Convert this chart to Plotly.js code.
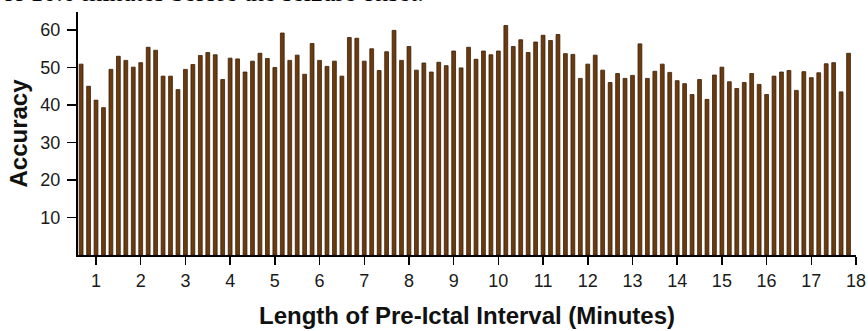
<!DOCTYPE html>
<html>
<head>
<meta charset="utf-8">
<script src="https://cdn.plot.ly/plotly-3.0.1.min.js"></script>
<style>
  html, body { margin: 0; padding: 0; background: #fff; }
  #chart { width: 868px; height: 331px; }
</style>
</head>
<body>
<div id="chart"></div>
<script>
// Pre-ictal interval length, in seconds (bars every 10 s)
const intervalSeconds = [
  40, 50, 60, 70, 80, 90, 100, 110, 120, 130, 140, 150, 160, 170, 180, 190, 200, 210, 220, 230,
  240, 250, 260, 270, 280, 290, 300, 310, 320, 330, 340, 350, 360, 370, 380, 390, 400, 410, 420, 430,
  440, 450, 460, 470, 480, 490, 500, 510, 520, 530, 540, 550, 560, 570, 580, 590, 600, 610, 620, 630,
  640, 650, 660, 670, 680, 690, 700, 710, 720, 730, 740, 750, 760, 770, 780, 790, 800, 810, 820, 830,
  840, 850, 860, 870, 880, 890, 900, 910, 920, 930, 940, 950, 960, 970, 980, 990, 1000, 1010, 1020, 1030,
  1040, 1050, 1060, 1070
];

// Accuracy (%) per interval
const accuracy = [
  50.9, 45.0, 41.3, 39.3, 49.5, 53.0, 51.9, 50.1, 51.3, 55.4,
  54.6, 47.7, 47.7, 44.1, 49.5, 50.8, 53.2, 54.0, 53.4, 46.8,
  52.5, 52.3, 48.8, 51.7, 53.8, 52.4, 50.0, 59.2, 51.9, 53.3,
  48.2, 56.4, 51.9, 50.3, 51.7, 47.7, 58.0, 57.8, 51.7, 55.0,
  49.2, 54.2, 59.9, 51.9, 55.6, 49.3, 51.2, 48.8, 51.4, 50.5,
  54.4, 49.9, 55.4, 52.2, 54.4, 53.4, 54.4, 61.2, 55.6, 57.4,
  54.0, 56.8, 58.6, 57.2, 58.8, 53.7, 53.5, 47.1, 50.9, 53.3,
  49.3, 46.0, 48.4, 47.1, 47.9, 56.3, 47.1, 49.0, 50.9, 48.7,
  46.5, 45.7, 42.8, 46.8, 41.5, 48.0, 50.1, 46.2, 44.4, 46.0,
  48.4, 45.5, 42.8, 47.7, 48.8, 49.2, 43.9, 48.9, 47.3, 48.6,
  51.0, 51.3, 43.5, 53.8
];

const xTickVals = [1, 2, 3, 4, 5, 6, 7, 8, 9, 10, 11, 12, 13, 14, 15, 16, 17, 18];
const yTickVals = [10, 20, 30, 40, 50, 60];

const minutes = intervalSeconds.map(s => s / 60);

const trace = {
  type: 'bar',
  x: minutes,
  y: accuracy,
  width: 0.085,
  marker: { color: '#6B3A0E', line: { color: '#3B1E06', width: 0.8 } },
  hoverinfo: 'x+y'
};

const font = { family: 'Liberation Sans, Arial, sans-serif', size: 18, color: '#1a1a1a' };
const titleFont = { family: 'Liberation Sans, Arial, sans-serif', size: 24, color: '#111', weight: 'bold' };

const layout = {
  width: 868,
  height: 331,
  margin: { l: 78, r: 12, t: 12, b: 76 },
  paper_bgcolor: '#ffffff',
  plot_bgcolor: '#ffffff',
  showlegend: false,
  bargap: 0,
  font: font,
  xaxis: {
    range: [0.597, 18],
    tickvals: xTickVals,
    ticktext: xTickVals.map(String),
    ticks: 'outside',
    ticklen: 8,
    tickwidth: 1.5,
    tickcolor: '#000',
    showline: true,
    linecolor: '#000',
    linewidth: 2,
    showgrid: false,
    zeroline: false,
    automargin: false,
    tickfont: font,
    title: { text: 'Length of Pre-Ictal Interval (Minutes)', font: titleFont, standoff: 18 }
  },
  yaxis: {
    range: [0, 64.8],
    tickvals: yTickVals,
    ticktext: yTickVals.map(String),
    ticks: 'outside',
    ticklen: 9,
    tickwidth: 1.5,
    tickcolor: '#000',
    showline: true,
    linecolor: '#000',
    linewidth: 2,
    showgrid: false,
    zeroline: false,
    automargin: false,
    ticklabelstandoff: 3,
    tickfont: font,
    title: { text: 'Accuracy', font: titleFont, standoff: 6 }
  },
  annotations: [{
    text: 'of 10.0 minutes before the seizure onset.',
    xref: 'paper', yref: 'paper',
    x: 0, y: 1,
    xanchor: 'left', yanchor: 'bottom',
    xshift: -78, yshift: 3,
    showarrow: false,
    font: { family: 'Liberation Serif, Times New Roman, serif', size: 26, color: '#000' }
  }]
};

Plotly.newPlot('chart', [trace], layout, { displayModeBar: false, staticPlot: true });
</script>
</body>
</html>
